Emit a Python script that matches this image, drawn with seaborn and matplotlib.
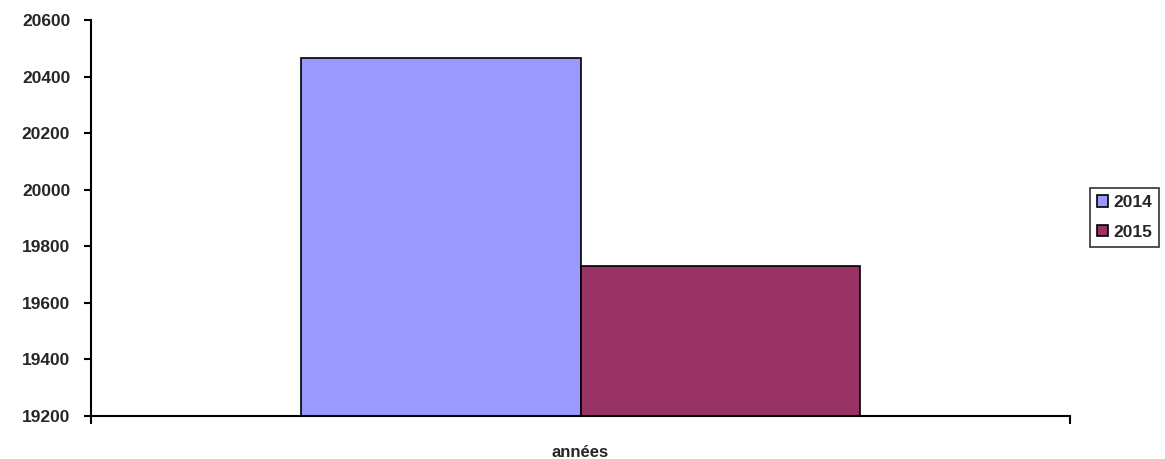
import pandas as pd
import numpy as np
import matplotlib.pyplot as plt
import seaborn as sns
from matplotlib.patches import Patch

# data
categories = ['années', 'années']
years = ['2014', '2015']
values = [20467, 19731]
colors = {'2014': '#9999FF', '2015': '#993366'}

sns.set_style('white')
plt.rcParams['font.family'] = ['Liberation Sans', 'DejaVu Sans']

df = pd.DataFrame({'cat': categories, 'year': years, 'value': values})

fig = plt.figure(figsize=(11.65, 4.59), dpi=100)
ax = fig.add_axes([0.0781, 0.0937, 0.8404, 0.8627])

sns.barplot(data=df, x='cat', y='value', hue='year', palette=colors,
            width=0.571, edgecolor='black', linewidth=1.2, saturation=1,
            legend=False, ax=ax)

ax.set_xlim(-0.5, 0.5)
ax.set_ylim(19200, 20600)
ax.set_yticks(np.arange(19200, 20601, 200))
ax.tick_params(axis='y', left=True, length=5, width=1.5, direction='out', pad=10,
               color='black', labelsize=12.5)
for t in ax.get_yticklabels():
    t.set_fontweight('bold')

# category label below axis, with tick marks at category boundaries
ax.set_xticks([0])
ax.set_xticklabels(['années'], fontweight='bold', fontsize=12)
ax.tick_params(axis='x', length=0, pad=21)
ax.set_xticks([-0.5, 0.5], minor=True)
ax.tick_params(axis='x', which='minor', bottom=True, length=6, width=1.5, direction='out', color='black')
ax.set_xlabel('')
ax.set_ylabel('')

for side in ['top', 'right']:
    ax.spines[side].set_visible(False)
for side in ['left', 'bottom']:
    ax.spines[side].set_color('black')
    ax.spines[side].set_linewidth(1.5)

handles = [Patch(facecolor=colors[y], edgecolor='black', linewidth=1.2, label=y) for y in years]
leg = fig.legend(handles=handles, loc='upper left', bbox_to_anchor=(1090 / 1165, 1 - 188 / 459),
                 borderaxespad=0, frameon=True, fancybox=False,
                 handlelength=0.65, handleheight=0.65,
                 handletextpad=0.3, borderpad=0.4, labelspacing=0.85,
                 prop={'weight': 'bold', 'size': 12.5})
leg.get_frame().set_edgecolor('black')
leg.get_frame().set_linewidth(1.2)

fig.savefig('out.png', dpi=100)
